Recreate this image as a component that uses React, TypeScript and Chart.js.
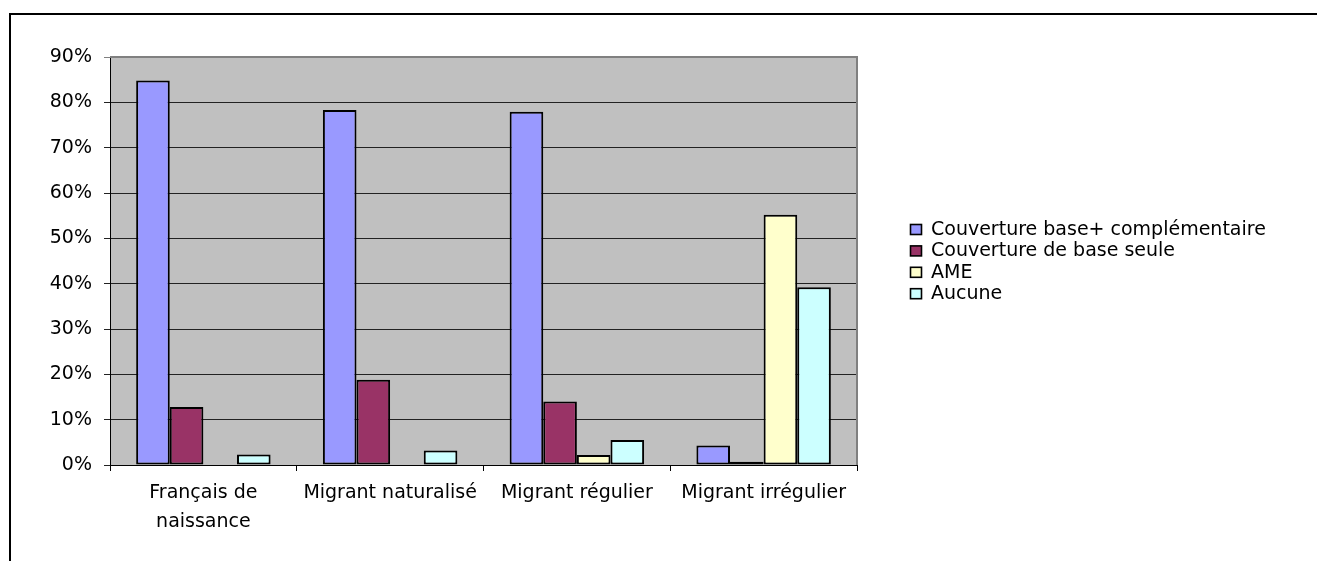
import React, { useEffect, useRef } from "react";
import { Chart, registerables } from "chart.js";

Chart.register(...registerables);

const categories: (string | string[])[] = [
  ["Français de", "naissance"],
  "Migrant naturalisé",
  "Migrant régulier",
  "Migrant irrégulier",
];

const seriesLabels = [
  "Couverture base+ complémentaire",
  "Couverture de base seule",
  "AME",
  "Aucune",
];

const baseComplementaire = [84.8, 78.3, 77.9, 4.3];
const baseSeule = [12.8, 18.8, 14.0, 0.7];
const ame: (number | null)[] = [null, null, 2.2, 55.2];
const aucune = [2.3, 3.2, 5.5, 39.2];

const seriesColors = ["#9999FF", "#993366", "#FFFFCC", "#CCFFFF"];

const yTicks = [0, 10, 20, 30, 40, 50, 60, 70, 80, 90];

const FONT = "'DejaVu Sans', sans-serif";

const plotBg = {
  id: "plotBg",
  beforeDraw(chart: any) {
    const { ctx, chartArea: a } = chart;
    ctx.save();
    ctx.fillStyle = "#C0C0C0";
    ctx.fillRect(a.left, a.top, a.right - a.left, a.bottom - a.top);
    ctx.restore();
  },
  beforeDatasetsDraw(chart: any) {
    const { ctx, chartArea: a } = chart;
    ctx.save();
    ctx.strokeStyle = "#808080";
    ctx.lineWidth = 2;
    ctx.beginPath();
    ctx.moveTo(a.left, a.top);
    ctx.lineTo(a.right, a.top);
    ctx.lineTo(a.right, a.bottom);
    ctx.stroke();
    ctx.restore();
  },
};

const customLegend = {
  id: "customLegend",
  afterDraw(chart: any) {
    const { ctx } = chart;
    const x0 = 910;
    const y0 = 229;
    const step = 21.4;
    ctx.save();
    ctx.font = `19px ${FONT}`;
    ctx.textBaseline = "middle";
    ctx.textAlign = "left";
    chart.data.datasets.forEach((ds: any, i: number) => {
      const cy = y0 + i * step;
      ctx.fillStyle = ds.backgroundColor;
      ctx.fillRect(x0 + 0.5, cy - 5 + 0.5, 11, 10);
      ctx.strokeStyle = "#000";
      ctx.lineWidth = 1.6;
      ctx.strokeRect(x0 + 0.5, cy - 5 + 0.5, 11, 10);
      ctx.fillStyle = "#000";
      ctx.fillText(ds.label, 931, cy + 1);
    });
    ctx.restore();
  },
};

export default function App() {
  const ref = useRef<HTMLCanvasElement | null>(null);

  useEffect(() => {
    if (!ref.current) return;
    const datasetsValues = [baseComplementaire, baseSeule, ame, aucune];
    const chart = new Chart(ref.current, {
      type: "bar",
      data: {
        labels: categories,
        datasets: datasetsValues.map((vals, i) => ({
          label: seriesLabels[i],
          data: vals,
          backgroundColor: seriesColors[i],
          borderColor: "#000",
          borderWidth: 2,
          borderSkipped: false,
          categoryPercentage: 0.72,
          barPercentage: 1,
        })),
      },
      options: {
        animation: false,
        responsive: false,
        maintainAspectRatio: false,
        layout: { padding: { top: 57, left: 0, right: 460, bottom: 0 } },
        plugins: {
          legend: { display: false },
          tooltip: { enabled: false },
          title: { display: false },
        },
        scales: {
          x: {
            offset: true,
            grid: {
              display: true,
              drawOnChartArea: false,
              offset: true,
              tickLength: 6,
              color: "#000",
              lineWidth: 1,
            },
            border: { display: true, color: "#000", width: 1 },
            ticks: {
              color: "#000",
              padding: 8,
              maxRotation: 0,
              autoSkip: false,
              font: { family: FONT, size: 19, lineHeight: 1.5 },
            },
            afterFit(scale: any) {
              scale.height = 96;
            },
          },
          y: {
            min: 0,
            max: 90,
            afterBuildTicks(scale: any) {
              scale.ticks = yTicks.map((v) => ({ value: v }));
            },
            grid: {
              color: (c: any) => (c.tick && c.tick.value === 90 ? "#808080" : "#222"),
              lineWidth: 1,
              tickLength: 6,
              drawTicks: true,
            },
            border: { display: true, color: "#000", width: 1 },
            ticks: {
              color: "#000",
              padding: 12,
              font: { family: FONT, size: 19 },
              callback: (v: any) => `${v}%`,
            },
            afterFit(scale: any) {
              scale.width = 110;
            },
          },
        },
      },
      plugins: [plotBg, customLegend],
    });
    return () => chart.destroy();
  }, []);

  return (
    <div
      style={{
        position: "fixed",
        left: 0,
        top: 0,
        width: 1317,
        height: 561,
        background: "#fff",
        overflow: "hidden",
      }}
    >
      <div
        style={{
          position: "absolute",
          left: 9,
          top: 13,
          width: 1320,
          height: 600,
          borderTop: "2px solid #000",
          borderLeft: "2px solid #000",
          boxSizing: "border-box",
        }}
      />
      <canvas
        ref={ref}
        width={1317}
        height={561}
        style={{ position: "absolute", left: 0, top: 0, width: 1317, height: 561 }}
      />
    </div>
  );
}
